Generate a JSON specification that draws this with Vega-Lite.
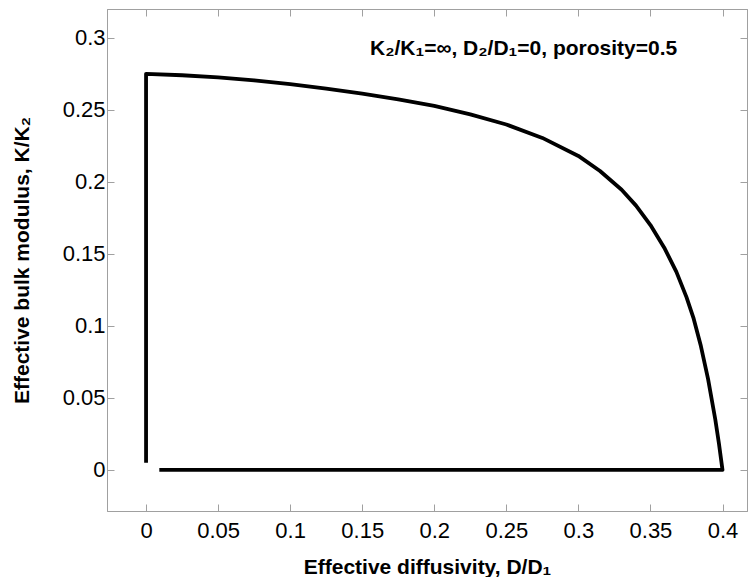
{
  "$schema": "https://vega.github.io/schema/vega-lite/v6.json",
  "width": 640,
  "height": 502,
  "autosize": {"type": "none"},
  "padding": {"left": 107, "top": 9, "right": 1, "bottom": 66},
  "background": "white",
  "config": {
    "view": {"stroke": "#a0a0a0", "strokeWidth": 1},
    "font": "Liberation Sans"
  },
  "layer": [
    {
      "data": {
        "values": [
          {"o": 1, "x": 0, "y": 0.005},
          {"o": 2, "x": 0, "y": 0.275},
          {"o": 3, "x": 0.025, "y": 0.274},
          {"o": 4, "x": 0.05, "y": 0.2726},
          {"o": 5, "x": 0.075, "y": 0.2705},
          {"o": 6, "x": 0.1, "y": 0.2678},
          {"o": 7, "x": 0.125, "y": 0.2647},
          {"o": 8, "x": 0.15, "y": 0.2612},
          {"o": 9, "x": 0.175, "y": 0.2573},
          {"o": 10, "x": 0.2, "y": 0.2527},
          {"o": 11, "x": 0.225, "y": 0.2468},
          {"o": 12, "x": 0.25, "y": 0.2398},
          {"o": 13, "x": 0.275, "y": 0.2305},
          {"o": 14, "x": 0.3, "y": 0.218},
          {"o": 15, "x": 0.315, "y": 0.2075},
          {"o": 16, "x": 0.33, "y": 0.1945},
          {"o": 17, "x": 0.34, "y": 0.1835},
          {"o": 18, "x": 0.35, "y": 0.17},
          {"o": 19, "x": 0.36, "y": 0.1535},
          {"o": 20, "x": 0.368, "y": 0.1375},
          {"o": 21, "x": 0.375, "y": 0.12},
          {"o": 22, "x": 0.38, "y": 0.105},
          {"o": 23, "x": 0.385, "y": 0.086},
          {"o": 24, "x": 0.39, "y": 0.063},
          {"o": 25, "x": 0.395, "y": 0.035},
          {"o": 26, "x": 0.3975, "y": 0.0185},
          {"o": 27, "x": 0.4, "y": 0.0},
          {"o": 28, "x": 0.0092, "y": 0.0}
        ]
      },
      "mark": {"type": "line", "color": "black", "strokeWidth": 3.8, "strokeJoin": "round", "clip": true},
      "encoding": {
        "x": {
          "field": "x", "type": "quantitative",
          "scale": {"domain": [-0.0271, 0.4170], "nice": false, "zero": false},
          "axis": {
            "title": "Effective diffusivity, D/D₁",
            "values": [0, 0.05, 0.1, 0.15, 0.2, 0.25, 0.3, 0.35, 0.4],
            "format": "~g",
            "grid": false,
            "domainColor": "#a0a0a0",
            "tickColor": "#a0a0a0",
            "tickSize": -7,
            "labelPadding": 16,
            "labelFontSize": 22,
            "labelColor": "black",
            "labelFont": "Liberation Sans",
            "titleFontSize": 21,
            "titleFont": "Liberation Sans",
            "titleFontWeight": "bold",
            "titleColor": "black",
            "titlePadding": 15
          }
        },
        "y": {
          "field": "y", "type": "quantitative",
          "scale": {"domain": [-0.0285, 0.32], "nice": false, "zero": false},
          "axis": {
            "title": "Effective bulk modulus, K/K₂",
            "values": [0, 0.05, 0.1, 0.15, 0.2, 0.25, 0.3],
            "format": "~g",
            "grid": false,
            "domainColor": "#a0a0a0",
            "tickColor": "#a0a0a0",
            "tickSize": -7,
            "labelPadding": 9,
            "labelFontSize": 22,
            "labelColor": "black",
            "labelFont": "Liberation Sans",
            "titleFontSize": 21,
            "titleFont": "Liberation Sans",
            "titleFontWeight": "bold",
            "titleColor": "black",
            "titlePadding": 30
          }
        },
        "order": {"field": "o", "type": "quantitative"}
      }
    },
    {
      "data": {"values": [{"x": 0.1554, "y": 0.288, "t": "K₂/K₁=∞, D₂/D₁=0, porosity=0.5"}]},
      "mark": {"type": "text", "align": "left", "baseline": "alphabetic", "fontSize": 21, "fontWeight": "bold", "font": "Liberation Sans", "color": "black"},
      "encoding": {
        "x": {"field": "x", "type": "quantitative", "axis": {"orient": "top", "title": null, "labels": false, "grid": false, "values": [0, 0.05, 0.1, 0.15, 0.2, 0.25, 0.3, 0.35, 0.4], "domainColor": "#a0a0a0", "tickColor": "#a0a0a0", "tickSize": -7}},
        "y": {"field": "y", "type": "quantitative", "axis": {"orient": "right", "title": null, "labels": false, "grid": false, "values": [0, 0.05, 0.1, 0.15, 0.2, 0.25, 0.3], "domainColor": "#a0a0a0", "tickColor": "#a0a0a0", "tickSize": -7}},
        "text": {"field": "t"}
      }
    }
  ],
  "resolve": {"axis": {"x": "independent", "y": "independent"}}
}
